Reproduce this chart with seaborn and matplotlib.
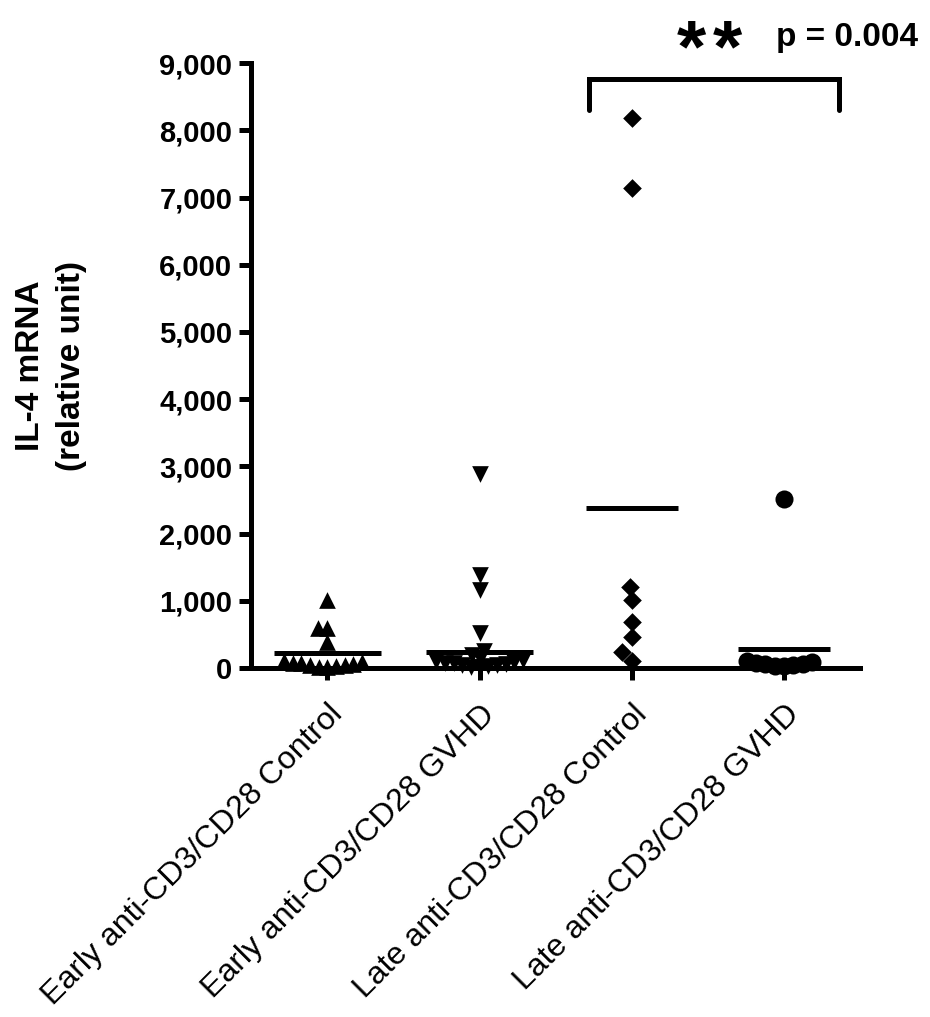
import pandas as pd
import seaborn as sns
import matplotlib.pyplot as plt
from matplotlib.ticker import StrMethodFormatter

# values (IL-4 mRNA, relative unit)
groups = [
    "Early anti-CD3/CD28 Control",
    "Early anti-CD3/CD28 GVHD",
    "Late anti-CD3/CD28 Control",
    "Late anti-CD3/CD28 GVHD",
]
early_control = [1010, 595, 595, 390, 110, 95, 80, 70, 60, 50, 40, 30, 20, 10]
early_gvhd = [2890, 1385, 1160, 520, 260, 200, 150, 120, 100, 90, 80,
              70, 60, 50, 40, 30, 20, 10]
late_control = [8185, 7145, 1205, 1010, 685, 460, 240, 105]
late_gvhd = [2515, 100, 85, 75, 65, 55, 45, 35, 25]
means = [225, 240, 2380, 283]
mean_halfwidth = [0.35, 0.35, 0.3, 0.3]
markers = ["^", "v", "D", "o"]
marker_sizes = [12, 12, 9.5, 13]
p_label = "p = 0.004"

sns.set_theme(style="ticks")
plt.rcParams["font.family"] = ["Liberation Sans", "DejaVu Sans"]
plt.rcParams.update({"text.color": "black", "axes.labelcolor": "black",
                     "xtick.color": "black", "ytick.color": "black",
                     "axes.edgecolor": "black"})

values = [early_control, early_gvhd, late_control, late_gvhd]
df = pd.concat(
    [pd.DataFrame({"group": g, "il4": v}) for g, v in zip(groups, values)],
    ignore_index=True,
)

fig = plt.figure(figsize=(9.3, 10.17), dpi=100)
ax = fig.add_axes([0.27, 0.343, 0.655, 0.595])

# swarm is laid out with smaller markers so points overlap like the original
squeeze = [0.5, 0.5, 1.0, 0.5]
swarms = []
for g, m, s, q in zip(groups, markers, marker_sizes, squeeze):
    n = len(ax.collections)
    sns.swarmplot(
        data=df[df["group"] == g], x="group", y="il4", order=groups,
        marker=m, color="black", size=s * q, ax=ax,
        warn_thresh=1, clip_on=False, zorder=3,
    )
    swarms += [(c, q) for c in ax.collections[n:]]

for i, (mu, w) in enumerate(zip(means, mean_halfwidth)):
    ax.hlines(mu, i - w, i + w, color="black", lw=3.6, zorder=4)

# significance bracket
ax.plot([1.72, 1.72, 3.36, 3.36], [8300, 8770, 8770, 8300],
        color="black", lw=3.6, clip_on=False, solid_joinstyle="miter")
for xs in [2.39, 2.63]:
    ax.text(xs, 9170, "*", fontsize=54, fontweight="bold", ha="center",
            va="center")
ax.text(2.95, 9375, p_label, fontsize=24, fontweight="bold", ha="left",
        va="center")

ax.set_xlim(-0.5, 3.5)
ax.set_ylim(0, 9000)
ax.set_yticks(range(0, 9001, 1000))
ax.yaxis.set_major_formatter(StrMethodFormatter("{x:,.0f}"))
ax.set_xticks(range(4))
ax.set_xticklabels(groups, rotation=45, ha="right", va="top",
                   rotation_mode="anchor", fontsize=23)
for t in ax.get_yticklabels():
    t.set_fontweight("bold")
    t.set_fontsize(21)
ax.set_xlabel("")
ax.set_ylabel("IL-4 mRNA\n(relative unit)", fontsize=24, fontweight="bold",
              labelpad=52, linespacing=1.4)

sns.despine(ax=ax)
for side in ["left", "bottom"]:
    ax.spines[side].set_linewidth(3.6)
ax.tick_params(width=3.6, length=8.5)
ax.tick_params(axis="y", pad=5)
ax.tick_params(axis="x", pad=14)

# fix the swarm positions, then blow the markers up to full size
fig.canvas.draw()
for c, q in swarms:
    c.__dict__.pop("draw", None)
    c.set_sizes(c.get_sizes() / q ** 2)

fig.savefig("out.png", dpi=100)
